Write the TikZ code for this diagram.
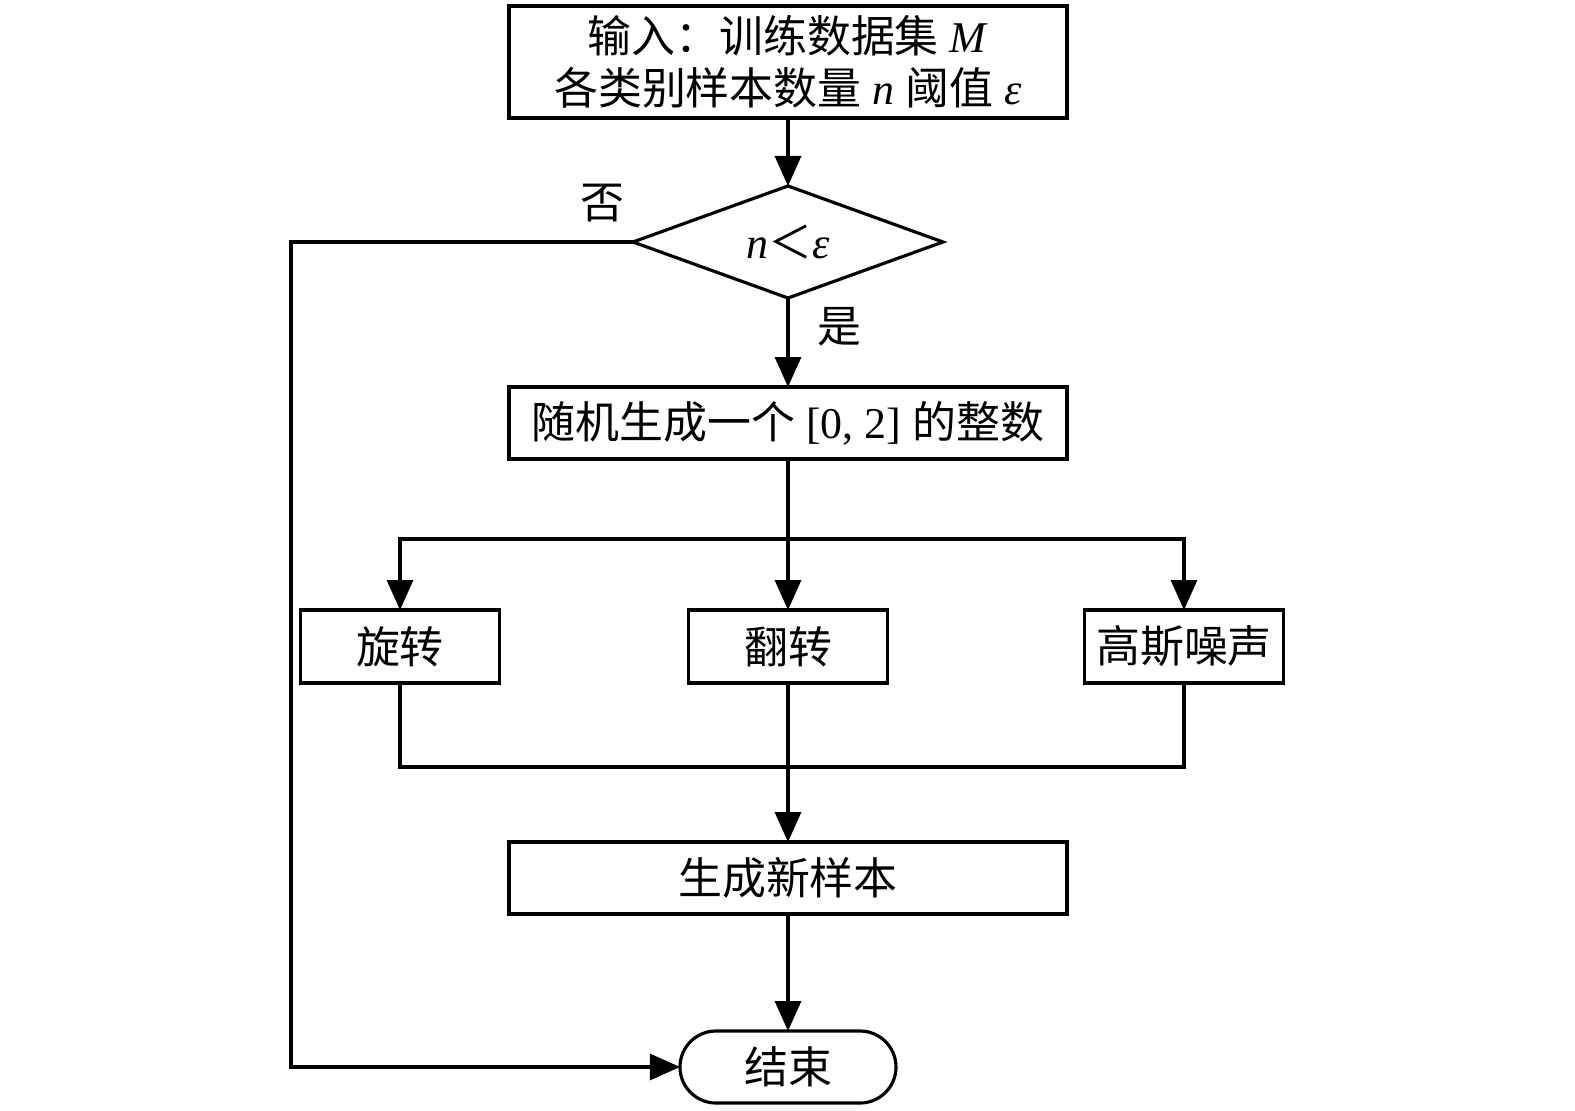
\documentclass[tikz,border=0pt]{standalone}
\usepackage{fontspec}
\setmainfont{Liberation Serif}
\newfontfamily\cjk{Noto Sans CJK SC}
\usetikzlibrary{positioning,shapes.geometric,arrows.meta}
\newcommand{\zh}[1]{{\cjk #1}}

\begin{document}
\begin{tikzpicture}[
	box/.style={draw, line width=1.8pt, outer sep=0pt, minimum width=11.16cm, minimum height=1.44cm, inner sep=0pt, align=center},
	opbox/.style={box, minimum width=3.98cm, minimum height=1.46cm},
	decision/.style={draw, diamond, aspect=2.75, line width=1.8pt, outer sep=0pt, minimum width=6.2cm, minimum height=2.24cm, inner sep=0pt},
	stopbox/.style={draw, line width=1.8pt, outer sep=0pt, rounded corners=0.72cm, minimum width=4.32cm, minimum height=1.44cm},
	arr/.style={-{Triangle[length=0.6cm, width=0.52cm]}},
	every path/.style={line width=1.8pt},
	font=\fontsize{25}{29.5}\selectfont
	]
	\useasboundingbox (-15.76,1.24) rectangle (15.74,-20.96);
	\node[box, minimum height=2.24cm] (input) at (0,0) {\zh{输入：训练数据集} \textit{M}\\\zh{各类别样本数量} \textit{n} \zh{阈值} \textit{ε}};
	\node[decision, below=1.36cm of input] (cmp) {\textit{n}\zh{＜}\textit{ε}};
	\node[box, below=1.78cm of cmp] (rand) {\zh{随机生成一个} [0, 2] \zh{的整数}};
	\node[opbox, below=3.02cm of rand] (flip) {\zh{翻转}};
	\node[opbox, left=3.78cm of flip] (rot) {\zh{旋转}};
	\node[opbox, right=3.94cm of flip] (noise) {\zh{高斯噪声}};
	\node[box, below=3.18cm of flip] (gen) {\zh{生成新样本}};
	\node[stopbox, below=2.34cm of gen] (end) {\zh{结束}};
	
	\draw[arr] (input) -- (cmp);
	\draw[arr] (cmp) -- node[pos=0.32, right=0.45cm] {\zh{是}} (rand);
	\draw[arr] (cmp.west) -- node[above=0.25cm, pos=0.09] {\zh{否}} ++(-6.84,0) |- (end);
	
	% branches
	\draw[arr] (rand) -- (flip);
	\draw[arr] (rand.south) -- ++(0,-1.6) -| (rot);
	\draw[arr] (rand.south) -- ++(0,-1.6) -| (noise);
	
	% merge
	\draw (rot.south) -- ++(0,-1.68) coordinate (m1) -- (m1 -| noise.south) -- (noise.south);
	\draw[arr] (flip) -- (gen);
	\draw[arr] (gen) -- (end);
\end{tikzpicture}
\end{document}
